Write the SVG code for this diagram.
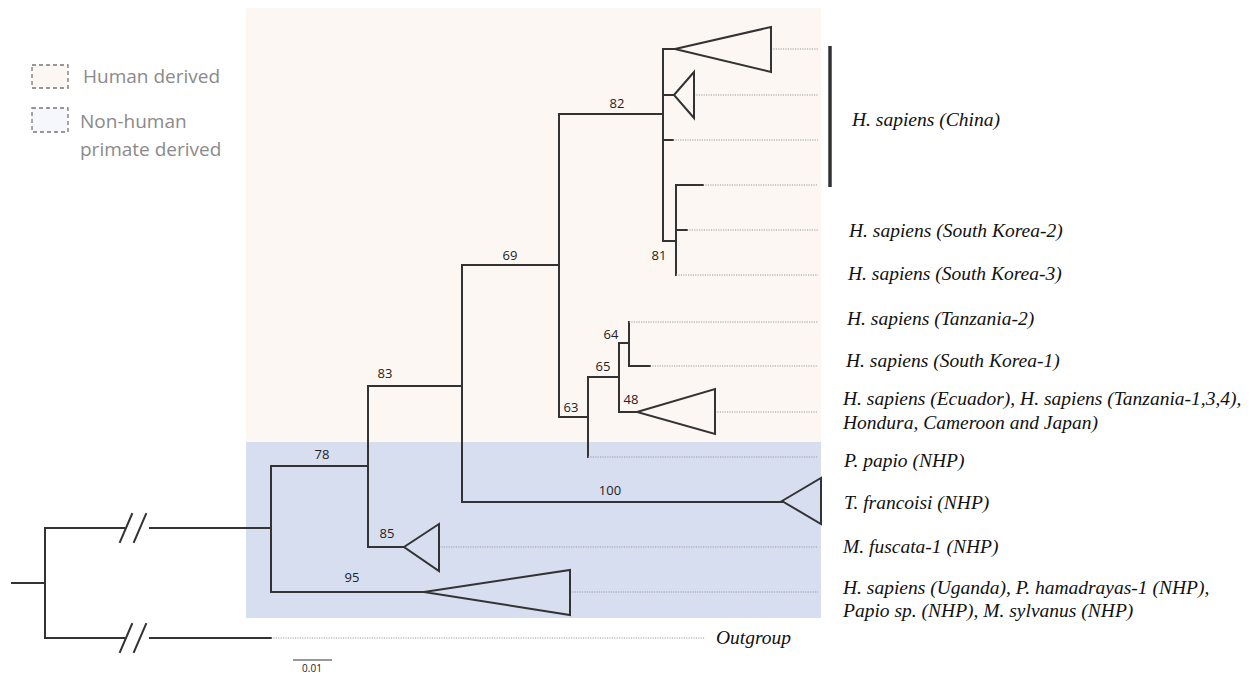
<svg xmlns="http://www.w3.org/2000/svg" width="1260" height="676" viewBox="0 0 1260 676">
<style>
.br{fill:none;stroke:#333;stroke-width:2;stroke-linecap:square}
.tri{fill:none;stroke:#333;stroke-width:2;stroke-linejoin:miter}
.dot{fill:none;stroke:#9a9a9a;stroke-width:1;stroke-dasharray:1.2 1.2}
.num{font-family:"Open Sans","Liberation Sans",sans-serif;font-size:13px;fill:#222;text-anchor:middle}
.lab{font-family:"Liberation Serif",serif;font-style:italic;font-size:19.5px;fill:#111}
.leg{font-family:"Open Sans","Liberation Sans",sans-serif;font-size:19px;fill:#8a8a8a}
.lbox{stroke:#777;stroke-width:1.3;stroke-dasharray:4 3}
</style>
<rect width="1260" height="676" fill="#fff"/>
<g id="regions">
<rect id="human-region" x="246" y="8" width="575" height="434" fill="#fdf7f4"/>
<rect id="nhp-region" x="246" y="442" width="575" height="176" fill="#d6def0"/>
</g>
<g id="legend">
<g id="legend-human"><rect class="lbox" x="32" y="65" width="36" height="23" fill="#fdf7f4"/><text class="leg" x="83" y="83">Human derived</text></g>
<g id="legend-nhp"><rect class="lbox" x="32" y="108" width="36" height="24" fill="#f5f7fc"/><text class="leg" x="80" y="128">Non-human</text><text class="leg" x="80" y="156">primate derived</text></g>
</g>
<g id="connectors">
<path class="br" d="M12 583H45M45 528V638"/>
<path class="br" d="M45 528H124M150 528H271"/>
<path class="br" d="M45 638H124M150 638H271"/>
<path class="br" d="M120 542L132 514M134 542L146 514"/>
<path class="br" d="M120 652L132 624M134 652L146 624"/>
<path class="br" d="M271 466V592M271 466H368M271 592H424"/>
<path class="br" d="M368 386V547M368 547H404M368 386H462"/>
<path class="br" d="M462 265V502M462 502H782M462 265H559"/>
<path class="br" d="M559 114V417M559 114H663M559 417H588"/>
<path class="br" d="M663 49V241M663 49H675M663 95H674M663 140H673M663 241H676"/>
<path class="br" d="M676 185V275M676 185H703M676 230H687"/>
<path class="br" d="M588 377V457M588 377H619"/>
<path class="br" d="M619 343V412M619 343H629M619 412H637"/>
<path class="br" d="M629 322V366M629 366H650"/>
<path class="dot" d="M771 49H818M694 95H818M673 140H818M703 185H818M687 230H818M676 275H818M629 322H818M650 366H818M715 412H818M588 457H818M439 547H818M570 592H818M271 638H705"/>
<line x1="830" y1="46" x2="830" y2="187" stroke="#333" stroke-width="3.5"/>
<line x1="293" y1="660" x2="332" y2="660" stroke="#333" stroke-width="1.2"/>
</g>
<g id="clades">
<path class="tri" d="M675 49L771 27V72Z"/>
<path class="tri" d="M674 95L694 72V118Z"/>
<path class="tri" d="M637 412L715 389V434Z"/>
<path class="tri" d="M782 501L821 478V524Z"/>
<path class="tri" d="M404 547L439 524V571Z"/>
<path class="tri" d="M424 592L570 570V615Z"/>
</g>
<g id="support">
<text class="num" x="617" y="108">82</text>
<text class="num" x="659" y="260">81</text>
<text class="num" x="510" y="260">69</text>
<text class="num" x="385" y="378">83</text>
<text class="num" x="571" y="412">63</text>
<text class="num" x="603" y="371">65</text>
<text class="num" x="611" y="339">64</text>
<text class="num" x="631" y="404">48</text>
<text class="num" x="322" y="459">78</text>
<text class="num" x="610" y="495">100</text>
<text class="num" x="387" y="538">85</text>
<text class="num" x="352" y="582">95</text>
<text class="num" x="312" y="672" style="font-size:10px">0.01</text>
</g>
<g id="labels">
<text class="lab" x="852" y="126">H. sapiens (China)</text>
<text class="lab" x="849" y="237">H. sapiens (South Korea-2)</text>
<text class="lab" x="848" y="280">H. sapiens (South Korea-3)</text>
<text class="lab" x="847" y="325">H. sapiens (Tanzania-2)</text>
<text class="lab" x="846" y="367">H. sapiens (South Korea-1)</text>
<text class="lab" x="843" y="405">H. sapiens (Ecuador), H. sapiens (Tanzania-1,3,4),</text>
<text class="lab" x="843" y="429">Hondura, Cameroon and Japan)</text>
<text class="lab" x="844" y="467">P. papio (NHP)</text>
<text class="lab" x="844" y="509">T. francoisi (NHP)</text>
<text class="lab" x="843" y="553">M. fuscata-1 (NHP)</text>
<text class="lab" x="843" y="594">H. sapiens (Uganda), P. hamadrayas-1 (NHP),</text>
<text class="lab" x="843" y="617">Papio sp. (NHP), M. sylvanus (NHP)</text>
<text class="lab" x="716" y="644">Outgroup</text>
</g>
</svg>
